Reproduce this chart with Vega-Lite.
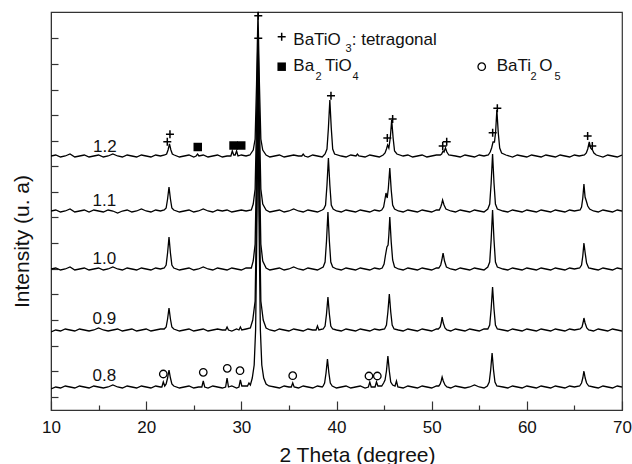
{
"$schema":"https://vega.github.io/schema/vega-lite/v6.json",
"width":571,"height":398,
"autosize":{"type":"none"},
"padding":{"left":51,"top":12,"right":10,"bottom":54},
"config":{"font":"Liberation Sans","view":{"stroke":"#333","strokeWidth":1.2}},
"datasets":{
"t12":[{"x":10,"y":254},{"x":10.5,"y":255},{"x":11,"y":253},{"x":11.5,"y":254},{"x":12,"y":256},{"x":12.5,"y":253},{"x":13,"y":254},{"x":13.5,"y":255},{"x":14,"y":253},{"x":14.5,"y":254},{"x":15,"y":255},{"x":15.5,"y":253},{"x":16,"y":254},{"x":16.5,"y":256},{"x":17,"y":254},{"x":17.5,"y":253},{"x":18,"y":255},{"x":18.5,"y":254},{"x":19,"y":253},{"x":19.5,"y":255},{"x":20,"y":254},{"x":20.5,"y":253},{"x":21,"y":255},{"x":21.5,"y":254},{"x":21.95,"y":255},{"x":22.15,"y":256},{"x":22.3,"y":260},{"x":22.45,"y":266},{"x":22.6,"y":260},{"x":22.75,"y":256},{"x":22.95,"y":255},{"x":23.5,"y":253},{"x":24,"y":254},{"x":24.5,"y":255},{"x":25,"y":253},{"x":25.25,"y":254},{"x":25.4,"y":256},{"x":25.55,"y":254},{"x":26,"y":255},{"x":26.5,"y":253},{"x":27,"y":254},{"x":27.5,"y":255},{"x":28,"y":253},{"x":28.5,"y":254},{"x":28.9,"y":254},{"x":29.05,"y":259},{"x":29.2,"y":255},{"x":29.35,"y":255},{"x":29.5,"y":259},{"x":29.65,"y":254},{"x":30,"y":255},{"x":30.5,"y":254},{"x":30.9,"y":255},{"x":31.25,"y":260},{"x":31.45,"y":271},{"x":31.6,"y":326},{"x":31.75,"y":398},{"x":31.9,"y":326},{"x":32.05,"y":271},{"x":32.25,"y":260},{"x":32.6,"y":255},{"x":33,"y":253},{"x":33.5,"y":254},{"x":34,"y":255},{"x":34.5,"y":253},{"x":35,"y":254},{"x":35.5,"y":255},{"x":36,"y":254},{"x":36.35,"y":254},{"x":36.5,"y":256},{"x":36.65,"y":254},{"x":37,"y":253},{"x":37.5,"y":255},{"x":38,"y":254},{"x":38.5,"y":253},{"x":38.8,"y":256},{"x":39,"y":261},{"x":39.15,"y":282},{"x":39.3,"y":310},{"x":39.45,"y":282},{"x":39.6,"y":261},{"x":39.8,"y":256},{"x":40.5,"y":254},{"x":41,"y":253},{"x":41.5,"y":255},{"x":42.05,"y":254},{"x":42.2,"y":256},{"x":42.35,"y":254},{"x":43,"y":253},{"x":43.5,"y":255},{"x":44,"y":254},{"x":44.5,"y":253},{"x":44.9,"y":255},{"x":45.1,"y":257},{"x":45.25,"y":261},{"x":45.37,"y":265},{"x":45.5,"y":262},{"x":45.65,"y":272},{"x":45.8,"y":290},{"x":45.95,"y":272},{"x":46.1,"y":259},{"x":46.35,"y":256},{"x":47,"y":254},{"x":47.5,"y":255},{"x":48,"y":253},{"x":48.5,"y":254},{"x":49,"y":255},{"x":49.5,"y":253},{"x":50,"y":254},{"x":50.5,"y":255},{"x":50.9,"y":255},{"x":51.05,"y":256},{"x":51.2,"y":259},{"x":51.3,"y":258},{"x":51.45,"y":262},{"x":51.6,"y":258},{"x":51.8,"y":255},{"x":52.5,"y":254},{"x":53,"y":253},{"x":53.5,"y":255},{"x":54,"y":254},{"x":54.5,"y":253},{"x":55,"y":255},{"x":55.5,"y":254},{"x":55.95,"y":255},{"x":56.15,"y":258},{"x":56.3,"y":262},{"x":56.45,"y":268},{"x":56.6,"y":268},{"x":56.72,"y":278},{"x":56.85,"y":300},{"x":57,"y":277},{"x":57.15,"y":262},{"x":57.35,"y":257},{"x":57.8,"y":255},{"x":58.5,"y":253},{"x":59,"y":255},{"x":59.5,"y":254},{"x":60,"y":253},{"x":60.5,"y":255},{"x":61,"y":254},{"x":61.5,"y":253},{"x":62,"y":255},{"x":62.5,"y":254},{"x":63,"y":253},{"x":63.5,"y":255},{"x":64,"y":254},{"x":64.5,"y":253},{"x":65,"y":255},{"x":65.5,"y":254},{"x":66.05,"y":255},{"x":66.25,"y":257},{"x":66.4,"y":261},{"x":66.56,"y":268},{"x":66.7,"y":262},{"x":66.9,"y":260},{"x":67.05,"y":257},{"x":67.3,"y":255},{"x":68,"y":253},{"x":68.5,"y":255},{"x":69,"y":254},{"x":69.5,"y":253},{"x":70,"y":255}],
"t11":[{"x":10,"y":199},{"x":10.5,"y":200},{"x":11,"y":198},{"x":11.5,"y":199},{"x":12,"y":201},{"x":12.5,"y":198},{"x":13,"y":199},{"x":13.5,"y":200},{"x":14,"y":198},{"x":14.5,"y":200},{"x":15,"y":199},{"x":15.5,"y":198},{"x":16,"y":200},{"x":16.5,"y":199},{"x":17,"y":197},{"x":17.5,"y":199},{"x":18,"y":200},{"x":18.5,"y":198},{"x":19,"y":199},{"x":19.5,"y":201},{"x":20,"y":199},{"x":20.5,"y":198},{"x":21,"y":200},{"x":21.5,"y":199},{"x":21.9,"y":200},{"x":22.1,"y":202},{"x":22.25,"y":211},{"x":22.4,"y":223},{"x":22.55,"y":211},{"x":22.7,"y":202},{"x":22.9,"y":200},{"x":23.5,"y":198},{"x":24,"y":199},{"x":24.5,"y":200},{"x":25,"y":198},{"x":25.5,"y":199},{"x":26,"y":201},{"x":26.5,"y":199},{"x":27,"y":198},{"x":27.5,"y":200},{"x":28,"y":199},{"x":28.5,"y":200},{"x":29,"y":198},{"x":29.5,"y":199},{"x":30,"y":200},{"x":30.5,"y":199},{"x":31.05,"y":200},{"x":31.25,"y":206},{"x":31.45,"y":221},{"x":31.6,"y":289},{"x":31.75,"y":380},{"x":31.9,"y":289},{"x":32.05,"y":221},{"x":32.25,"y":206},{"x":32.6,"y":200},{"x":33,"y":198},{"x":33.5,"y":199},{"x":34,"y":200},{"x":34.5,"y":198},{"x":35,"y":199},{"x":35.5,"y":201},{"x":36,"y":199},{"x":36.5,"y":198},{"x":37,"y":200},{"x":37.5,"y":199},{"x":38,"y":198},{"x":38.5,"y":200},{"x":38.65,"y":201},{"x":38.85,"y":205},{"x":39,"y":225},{"x":39.15,"y":252},{"x":39.3,"y":225},{"x":39.45,"y":205},{"x":39.65,"y":201},{"x":40,"y":199},{"x":40.5,"y":198},{"x":41,"y":200},{"x":41.5,"y":199},{"x":42,"y":198},{"x":42.5,"y":200},{"x":43,"y":199},{"x":43.5,"y":198},{"x":44,"y":200},{"x":44.5,"y":199},{"x":44.75,"y":200},{"x":44.95,"y":203},{"x":45.08,"y":210},{"x":45.2,"y":217},{"x":45.33,"y":212},{"x":45.45,"y":222},{"x":45.6,"y":242},{"x":45.75,"y":220},{"x":45.9,"y":205},{"x":46.1,"y":201},{"x":46.5,"y":199},{"x":47,"y":198},{"x":47.5,"y":200},{"x":48,"y":199},{"x":48.5,"y":198},{"x":49,"y":200},{"x":49.5,"y":199},{"x":50,"y":198},{"x":50.5,"y":200},{"x":50.8,"y":200},{"x":50.95,"y":203},{"x":51.05,"y":206},{"x":51.15,"y":210},{"x":51.3,"y":205},{"x":51.5,"y":201},{"x":52,"y":199},{"x":52.5,"y":198},{"x":53,"y":200},{"x":53.5,"y":199},{"x":54,"y":198},{"x":54.5,"y":200},{"x":55,"y":199},{"x":55.5,"y":198},{"x":55.9,"y":201},{"x":56.1,"y":206},{"x":56.25,"y":227},{"x":56.4,"y":256},{"x":56.55,"y":227},{"x":56.7,"y":206},{"x":56.9,"y":201},{"x":57.5,"y":199},{"x":58,"y":198},{"x":58.5,"y":200},{"x":59,"y":199},{"x":59.5,"y":198},{"x":60,"y":200},{"x":60.5,"y":199},{"x":61,"y":198},{"x":61.5,"y":200},{"x":62,"y":199},{"x":62.5,"y":198},{"x":63,"y":200},{"x":63.5,"y":199},{"x":64,"y":198},{"x":64.5,"y":200},{"x":65,"y":199},{"x":65.6,"y":200},{"x":65.75,"y":203},{"x":65.88,"y":212},{"x":66,"y":226},{"x":66.12,"y":213},{"x":66.25,"y":209},{"x":66.4,"y":204},{"x":66.6,"y":201},{"x":67,"y":199},{"x":67.5,"y":198},{"x":68,"y":200},{"x":68.5,"y":199},{"x":69,"y":198},{"x":69.5,"y":200},{"x":70,"y":199}],
"t10":[{"x":10,"y":141},{"x":10.5,"y":142},{"x":11,"y":140},{"x":11.5,"y":141},{"x":12,"y":143},{"x":12.5,"y":140},{"x":13,"y":141},{"x":13.5,"y":142},{"x":14,"y":140},{"x":14.5,"y":141},{"x":15,"y":142},{"x":15.5,"y":140},{"x":16,"y":141},{"x":16.5,"y":143},{"x":17,"y":141},{"x":17.5,"y":140},{"x":18,"y":142},{"x":18.5,"y":141},{"x":19,"y":140},{"x":19.5,"y":142},{"x":20,"y":141},{"x":20.5,"y":140},{"x":21,"y":142},{"x":21.5,"y":141},{"x":21.9,"y":142},{"x":22.1,"y":145},{"x":22.25,"y":157},{"x":22.4,"y":173},{"x":22.55,"y":157},{"x":22.7,"y":145},{"x":22.9,"y":142},{"x":23.5,"y":140},{"x":24,"y":141},{"x":24.5,"y":142},{"x":25,"y":140},{"x":25.5,"y":141},{"x":26,"y":143},{"x":26.5,"y":141},{"x":27,"y":140},{"x":27.5,"y":142},{"x":28,"y":141},{"x":28.5,"y":140},{"x":29,"y":142},{"x":29.5,"y":141},{"x":30,"y":140},{"x":30.5,"y":142},{"x":31.05,"y":142},{"x":31.25,"y":149},{"x":31.45,"y":166},{"x":31.6,"y":245},{"x":31.75,"y":350},{"x":31.9,"y":245},{"x":32.05,"y":166},{"x":32.25,"y":149},{"x":32.6,"y":142},{"x":33,"y":140},{"x":33.5,"y":141},{"x":34,"y":142},{"x":34.5,"y":140},{"x":35,"y":141},{"x":35.5,"y":143},{"x":36,"y":141},{"x":36.5,"y":140},{"x":37,"y":142},{"x":37.5,"y":141},{"x":38,"y":140},{"x":38.6,"y":143},{"x":38.8,"y":148},{"x":38.95,"y":169},{"x":39.1,"y":198},{"x":39.25,"y":169},{"x":39.4,"y":148},{"x":39.6,"y":143},{"x":40,"y":141},{"x":40.5,"y":140},{"x":41,"y":142},{"x":41.5,"y":141},{"x":42,"y":140},{"x":42.5,"y":142},{"x":43,"y":141},{"x":43.5,"y":140},{"x":44,"y":142},{"x":44.5,"y":141},{"x":44.8,"y":142},{"x":45,"y":146},{"x":45.15,"y":155},{"x":45.3,"y":163},{"x":45.42,"y":165},{"x":45.5,"y":175},{"x":45.6,"y":193},{"x":45.75,"y":168},{"x":45.9,"y":150},{"x":46.1,"y":143},{"x":46.5,"y":141},{"x":47,"y":140},{"x":47.5,"y":142},{"x":48,"y":141},{"x":48.5,"y":140},{"x":49,"y":142},{"x":49.5,"y":141},{"x":50,"y":140},{"x":50.5,"y":142},{"x":50.75,"y":142},{"x":50.95,"y":145},{"x":51.07,"y":150},{"x":51.2,"y":157},{"x":51.35,"y":149},{"x":51.55,"y":143},{"x":52,"y":141},{"x":52.5,"y":140},{"x":53,"y":142},{"x":53.5,"y":141},{"x":54,"y":140},{"x":54.5,"y":142},{"x":55,"y":141},{"x":55.5,"y":140},{"x":55.9,"y":143},{"x":56.1,"y":148},{"x":56.25,"y":170},{"x":56.4,"y":200},{"x":56.55,"y":170},{"x":56.7,"y":148},{"x":56.9,"y":143},{"x":57.5,"y":141},{"x":58,"y":140},{"x":58.5,"y":142},{"x":59,"y":141},{"x":59.5,"y":140},{"x":60,"y":142},{"x":60.5,"y":141},{"x":61,"y":140},{"x":61.5,"y":142},{"x":62,"y":141},{"x":62.5,"y":140},{"x":63,"y":142},{"x":63.5,"y":141},{"x":64,"y":140},{"x":64.5,"y":142},{"x":65,"y":141},{"x":65.55,"y":142},{"x":65.75,"y":145},{"x":65.88,"y":154},{"x":66,"y":167},{"x":66.13,"y":157},{"x":66.28,"y":147},{"x":66.5,"y":142},{"x":67,"y":141},{"x":67.5,"y":140},{"x":68,"y":142},{"x":68.5,"y":141},{"x":69,"y":140},{"x":69.5,"y":142},{"x":70,"y":141}],
"t09":[{"x":10,"y":78},{"x":10.5,"y":80},{"x":11,"y":79},{"x":11.5,"y":81},{"x":12,"y":80},{"x":12.5,"y":79},{"x":13,"y":81},{"x":13.5,"y":80},{"x":14,"y":79},{"x":14.5,"y":80},{"x":15,"y":82},{"x":15.5,"y":80},{"x":16,"y":79},{"x":16.5,"y":80},{"x":17,"y":81},{"x":17.5,"y":79},{"x":18,"y":80},{"x":18.5,"y":81},{"x":19,"y":79},{"x":19.5,"y":80},{"x":20,"y":81},{"x":20.5,"y":79},{"x":21,"y":80},{"x":21.5,"y":81},{"x":21.9,"y":81},{"x":22.1,"y":83},{"x":22.25,"y":91},{"x":22.4,"y":102},{"x":22.55,"y":91},{"x":22.7,"y":83},{"x":22.9,"y":81},{"x":23.5,"y":79},{"x":24,"y":80},{"x":24.5,"y":81},{"x":25,"y":79},{"x":25.5,"y":80},{"x":26,"y":81},{"x":26.5,"y":79},{"x":27,"y":80},{"x":27.5,"y":81},{"x":28,"y":80},{"x":28.35,"y":80},{"x":28.5,"y":83},{"x":28.65,"y":80},{"x":29,"y":79},{"x":29.5,"y":81},{"x":29.75,"y":80},{"x":29.9,"y":83},{"x":30.05,"y":80},{"x":30.5,"y":81},{"x":30.95,"y":82},{"x":31.2,"y":90},{"x":31.45,"y":109},{"x":31.6,"y":200},{"x":31.75,"y":320},{"x":31.9,"y":200},{"x":32.05,"y":109},{"x":32.3,"y":90},{"x":32.6,"y":82},{"x":33,"y":80},{"x":33.5,"y":79},{"x":34,"y":81},{"x":34.5,"y":80},{"x":35,"y":79},{"x":35.5,"y":81},{"x":36,"y":80},{"x":36.5,"y":79},{"x":37,"y":81},{"x":37.5,"y":80},{"x":37.85,"y":80},{"x":38,"y":84},{"x":38.15,"y":80},{"x":38.6,"y":81},{"x":38.8,"y":84},{"x":38.95,"y":96},{"x":39.1,"y":113},{"x":39.25,"y":96},{"x":39.4,"y":84},{"x":39.6,"y":81},{"x":40,"y":80},{"x":40.5,"y":79},{"x":41,"y":81},{"x":41.5,"y":80},{"x":42,"y":79},{"x":42.5,"y":81},{"x":43,"y":80},{"x":43.5,"y":79},{"x":44,"y":81},{"x":44.5,"y":80},{"x":45.05,"y":81},{"x":45.25,"y":85},{"x":45.4,"y":98},{"x":45.55,"y":116},{"x":45.7,"y":98},{"x":45.85,"y":85},{"x":46.05,"y":81},{"x":46.5,"y":80},{"x":47,"y":79},{"x":47.5,"y":81},{"x":48,"y":80},{"x":48.5,"y":79},{"x":49,"y":81},{"x":49.5,"y":80},{"x":50,"y":79},{"x":50.5,"y":81},{"x":50.7,"y":81},{"x":50.9,"y":83},{"x":51,"y":87},{"x":51.1,"y":93},{"x":51.22,"y":87},{"x":51.4,"y":82},{"x":51.6,"y":80},{"x":52,"y":79},{"x":52.5,"y":81},{"x":53,"y":80},{"x":53.5,"y":79},{"x":54,"y":81},{"x":54.5,"y":80},{"x":55,"y":79},{"x":55.5,"y":81},{"x":55.9,"y":81},{"x":56.1,"y":85},{"x":56.25,"y":101},{"x":56.4,"y":123},{"x":56.55,"y":101},{"x":56.7,"y":85},{"x":56.9,"y":81},{"x":57.5,"y":80},{"x":58,"y":79},{"x":58.5,"y":81},{"x":59,"y":80},{"x":59.5,"y":79},{"x":60,"y":81},{"x":60.5,"y":80},{"x":61,"y":79},{"x":61.5,"y":81},{"x":62,"y":80},{"x":62.5,"y":79},{"x":63,"y":81},{"x":63.5,"y":80},{"x":64,"y":79},{"x":64.5,"y":81},{"x":65,"y":80},{"x":65.6,"y":81},{"x":65.8,"y":83},{"x":65.9,"y":87},{"x":66,"y":92},{"x":66.12,"y":87},{"x":66.3,"y":82},{"x":66.5,"y":80},{"x":67,"y":79},{"x":67.5,"y":81},{"x":68,"y":80},{"x":68.5,"y":79},{"x":69,"y":81},{"x":69.5,"y":80},{"x":70,"y":79}],
"t08":[{"x":10,"y":21},{"x":10.5,"y":23},{"x":11,"y":22},{"x":11.5,"y":24},{"x":12,"y":23},{"x":12.5,"y":22},{"x":13,"y":24},{"x":13.5,"y":23},{"x":14,"y":22},{"x":14.5,"y":24},{"x":15,"y":23},{"x":15.5,"y":22},{"x":16,"y":23},{"x":16.5,"y":25},{"x":17,"y":23},{"x":17.5,"y":22},{"x":18,"y":24},{"x":18.5,"y":23},{"x":19,"y":22},{"x":19.5,"y":24},{"x":20,"y":23},{"x":20.5,"y":22},{"x":21,"y":24},{"x":21.5,"y":23},{"x":21.65,"y":23},{"x":21.8,"y":28},{"x":21.95,"y":24},{"x":22.1,"y":26},{"x":22.25,"y":32},{"x":22.4,"y":40},{"x":22.55,"y":32},{"x":22.7,"y":26},{"x":22.9,"y":24},{"x":23.5,"y":22},{"x":24,"y":23},{"x":24.5,"y":24},{"x":25,"y":22},{"x":25.5,"y":23},{"x":25.85,"y":23},{"x":26,"y":29},{"x":26.15,"y":23},{"x":26.5,"y":22},{"x":27,"y":24},{"x":27.5,"y":23},{"x":28,"y":22},{"x":28.35,"y":23},{"x":28.5,"y":32},{"x":28.65,"y":23},{"x":29,"y":24},{"x":29.5,"y":22},{"x":29.75,"y":23},{"x":29.9,"y":30},{"x":30.05,"y":24},{"x":30.4,"y":24},{"x":30.65,"y":24},{"x":30.8,"y":27},{"x":30.95,"y":25},{"x":31.15,"y":32},{"x":31.35,"y":45},{"x":31.5,"y":80},{"x":31.62,"y":170},{"x":31.75,"y":300},{"x":31.88,"y":170},{"x":32,"y":80},{"x":32.15,"y":45},{"x":32.35,"y":32},{"x":32.6,"y":26},{"x":32.9,"y":24},{"x":33.5,"y":23},{"x":34,"y":22},{"x":34.5,"y":24},{"x":35,"y":23},{"x":35.25,"y":23},{"x":35.4,"y":27},{"x":35.55,"y":23},{"x":36,"y":22},{"x":36.5,"y":24},{"x":37,"y":23},{"x":37.5,"y":22},{"x":38,"y":24},{"x":38.5,"y":23},{"x":38.6,"y":24},{"x":38.75,"y":27},{"x":38.9,"y":37},{"x":39.05,"y":51},{"x":39.2,"y":37},{"x":39.35,"y":27},{"x":39.55,"y":24},{"x":40,"y":22},{"x":40.5,"y":23},{"x":41,"y":24},{"x":41.5,"y":22},{"x":42,"y":23},{"x":42.5,"y":24},{"x":43,"y":22},{"x":43.35,"y":23},{"x":43.5,"y":28},{"x":43.65,"y":23},{"x":44.05,"y":23},{"x":44.2,"y":28},{"x":44.35,"y":24},{"x":44.75,"y":24},{"x":44.95,"y":27},{"x":45.1,"y":30},{"x":45.25,"y":39},{"x":45.4,"y":54},{"x":45.55,"y":39},{"x":45.7,"y":28},{"x":45.9,"y":25},{"x":46.15,"y":24},{"x":46.3,"y":29},{"x":46.45,"y":23},{"x":47,"y":22},{"x":47.5,"y":24},{"x":48,"y":23},{"x":48.5,"y":22},{"x":49,"y":24},{"x":49.5,"y":23},{"x":50,"y":22},{"x":50.5,"y":24},{"x":50.75,"y":24},{"x":50.9,"y":26},{"x":51,"y":29},{"x":51.1,"y":33},{"x":51.22,"y":29},{"x":51.4,"y":25},{"x":51.6,"y":23},{"x":52,"y":22},{"x":52.5,"y":24},{"x":53,"y":23},{"x":53.5,"y":22},{"x":54,"y":23},{"x":54.5,"y":25},{"x":55,"y":23},{"x":55.5,"y":22},{"x":55.85,"y":24},{"x":56.05,"y":28},{"x":56.2,"y":40},{"x":56.35,"y":57},{"x":56.5,"y":40},{"x":56.65,"y":28},{"x":56.85,"y":24},{"x":57.5,"y":23},{"x":58,"y":22},{"x":58.5,"y":24},{"x":59,"y":23},{"x":59.5,"y":22},{"x":60,"y":24},{"x":60.5,"y":23},{"x":61,"y":22},{"x":61.5,"y":24},{"x":62,"y":23},{"x":62.5,"y":22},{"x":63,"y":24},{"x":63.5,"y":23},{"x":64,"y":22},{"x":64.5,"y":24},{"x":65,"y":23},{"x":65.55,"y":24},{"x":65.75,"y":27},{"x":65.88,"y":32},{"x":66,"y":39},{"x":66.13,"y":32},{"x":66.28,"y":27},{"x":66.5,"y":24},{"x":67,"y":23},{"x":67.5,"y":22},{"x":68,"y":24},{"x":68.5,"y":23},{"x":69,"y":22},{"x":69.5,"y":24},{"x":70,"y":23}],
"series":[{"x":15.65,"y":258.3,"t":"1.2"},{"x":15.6,"y":204.3,"t":"1.1"},{"x":15.6,"y":146,"t":"1.0"},{"x":15.6,"y":85.7,"t":"0.9"},{"x":15.6,"y":29.3,"t":"0.8"}],
"words":[{"x":35.46,"y":365,"t":"BaTiO"},{"x":41.6,"y":365,"t":": tetragonal"},{"x":35.46,"y":339,"t":"Ba"},{"x":38.79,"y":339,"t":"TiO"},{"x":56.83,"y":339,"t":"BaTi"},{"x":61.31,"y":339,"t":"O"}],
"subs":[{"x":40.94,"y":358.5,"t":"3"},{"x":37.79,"y":330.5,"t":"2"},{"x":41.68,"y":330.5,"t":"4"},{"x":60.38,"y":330.5,"t":"2"},{"x":62.91,"y":330.5,"t":"5"}],
"plus":[{"x":22.5,"y":275.7},{"x":22.22,"y":268.3},{"x":31.78,"y":394.3},{"x":31.78,"y":371.7},{"x":39.42,"y":314.3},{"x":45.34,"y":272},{"x":45.9,"y":291},{"x":51.16,"y":264},{"x":51.58,"y":268.3},{"x":56.41,"y":277.3},{"x":56.9,"y":301.7},{"x":66.39,"y":274},{"x":66.88,"y":264},{"x":34.24,"y":373.3}],
"square":[{"x":25.42,"y":263},{"x":29.18,"y":264.5},{"x":29.99,"y":264.5},{"x":34.24,"y":343.3}],
"circle":[{"x":21.8,"y":36},{"x":26.0,"y":37.7},{"x":28.52,"y":41.7},{"x":29.86,"y":39.3},{"x":35.4,"y":34.3},{"x":43.41,"y":34},{"x":44.29,"y":34},{"x":55.26,"y":343.3}]
},
"encoding":{
"x":{"field":"x","type":"quantitative","scale":{"domain":[10,70],"nice":false,"zero":false},
 "axis":{"title":"2 Theta (degree)","values":[10,15,20,25,30,35,40,45,50,55,60,65,70],"labelExpr":"datum.value % 10 === 0 ? datum.label : ''","tickSize":{"condition":{"test":"datum.value % 10 === 0","value":-9},"value":-5},"labelPadding":18,"labelFontSize":17,"labelColor":"#111","labelFlush":false,"labelOverlap":false,"titleFontSize":21,"titleFontWeight":"normal","titleColor":"#111","titleX":306,"titleY":51,"titleBaseline":"alphabetic","titleAlign":"center","grid":false,"domainColor":"#333","tickColor":"#333","tickWidth":1.2}},
"y":{"field":"y","type":"quantitative","scale":{"domain":[0,398],"nice":false,"zero":false},
 "axis":{"title":"Intensity (u. a)","values":[13,39,64.5,90,116,141,167,192.5,218,244,269,295,320.5,346,372],"labels":false,"tickSize":-7,"grid":false,"domainColor":"#333","tickColor":"#333","tickWidth":1.2,"titleFontSize":21,"titleFontWeight":"normal","titleColor":"#111","titleX":-23,"titleY":229,"titleBaseline":"alphabetic","titleAlign":"center","titleAngle":270}}
},
"layer":[
{"data":{"name":"t12"},"mark":{"type":"line","color":"#000","strokeWidth":1.3,"clip":true}},
{"data":{"name":"t11"},"mark":{"type":"line","color":"#000","strokeWidth":1.3,"clip":true}},
{"data":{"name":"t10"},"mark":{"type":"line","color":"#000","strokeWidth":1.3,"clip":true}},
{"data":{"name":"t09"},"mark":{"type":"line","color":"#000","strokeWidth":1.3,"clip":true}},
{"data":{"name":"t08"},"mark":{"type":"line","color":"#000","strokeWidth":1.3,"clip":true}},
{"data":{"name":"series"},"mark":{"type":"text","align":"center","baseline":"alphabetic","fontSize":17,"color":"#111"},"encoding":{"text":{"field":"t"}}},
{"data":{"name":"words"},"mark":{"type":"text","align":"left","baseline":"alphabetic","fontSize":17,"color":"#111"},"encoding":{"text":{"field":"t"}}},
{"data":{"name":"subs"},"mark":{"type":"text","align":"left","baseline":"alphabetic","fontSize":11,"color":"#111"},"encoding":{"text":{"field":"t"}}},
{"data":{"name":"plus"},"mark":{"type":"point","shape":"M-1,0L1,0M0,-1L0,1","size":64,"filled":false,"stroke":"#000","strokeWidth":1.5,"opacity":1}},
{"data":{"name":"square"},"mark":{"type":"point","shape":"square","size":72,"filled":true,"color":"#000","opacity":1}},
{"data":{"name":"circle"},"mark":{"type":"point","shape":"circle","size":56,"filled":false,"stroke":"#000","strokeWidth":1.3,"opacity":1}}
]
}
